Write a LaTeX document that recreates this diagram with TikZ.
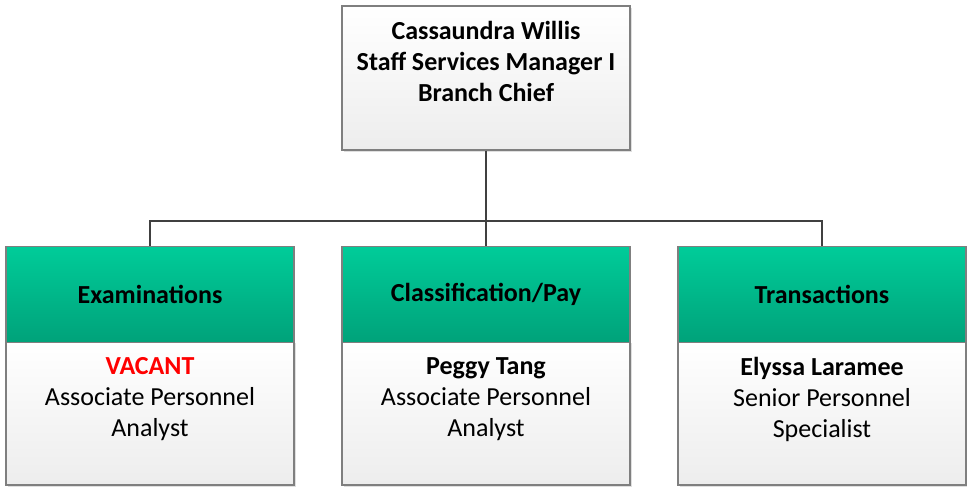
\documentclass[tikz,border=0pt]{standalone}
\usepackage{fontspec}
\setmainfont{Carlito}
\usetikzlibrary{positioning,shadows}
\definecolor{hdtop}{HTML}{00CC99}
\definecolor{hdbot}{HTML}{00A27A}
\definecolor{boxgray}{HTML}{EDEDED}
\definecolor{rimgray}{HTML}{7F7F7F}
\definecolor{wire}{HTML}{404040}
\definecolor{vacred}{HTML}{FF0000}
\tikzset{
  card/.style={draw=rimgray, line width=1.2pt, top color=white, bottom color=boxgray,
    minimum width=288pt, inner sep=0pt,
    drop shadow={shadow xshift=2pt, shadow yshift=-2pt, opacity=0.25}},
  head/.style={draw=rimgray, line width=1.2pt, top color=hdtop, bottom color=hdbot,
    minimum width=288pt, minimum height=96pt, inner sep=0pt,
    font=\fontsize{26}{31}\selectfont\bfseries},
  txt/.style={align=center, font=\fontsize{26}{31}\selectfont, inner sep=0pt},
  link/.style={draw=wire, line width=2.5pt}
}
\begin{document}
\begin{tikzpicture}[x=1pt,y=-1pt]
\useasboundingbox (0,0) rectangle (967,487);
% top box
	\node[card, minimum height=144pt] (chief) at (486,78) {};
	\node[txt, font=\fontsize{26}{31}\selectfont\bfseries, below=15.5pt of chief.north] (chieftxt)
		{Cassaundra Willis\\Staff Services Manager I\\Branch Chief};
% bottom bodies
	\node[card, minimum height=144pt] (exambody) at (150,413) {};
	\node[card, minimum height=144pt] (classbody) at (486,413) {};
	\node[card, minimum height=144pt] (transbody) at (822,413) {};
% headers
	\node[head] (exam) at (150,294.5) {Examinations};
	\node[head] (class) at (486,294.5) {Classification/Pay};
	\node[head] (trans) at (822,294.5) {Transactions};
% names and titles
	\node[txt, below=17pt of exambody.north] (examtxt)
		{\textbf{\color{vacred}VACANT}\\Associate Personnel\\Analyst};
	\node[txt, below=17pt of classbody.north] (classtxt)
		{\textbf{Peggy Tang}\\Associate Personnel\\Analyst};
	\node[txt, below=17pt of transbody.north] (transtxt)
		{\textbf{Elyssa Laramee}\\Senior Personnel\\Specialist};
% connectors
\coordinate (bus) at (486,221);
\draw[link] (chief.south)--(bus);
\draw[link] (exam.north)--(exam.north |- bus)--(trans.north |- bus)--(trans.north);
\draw[link] (bus)--(class.north);
\end{tikzpicture}
\end{document}
